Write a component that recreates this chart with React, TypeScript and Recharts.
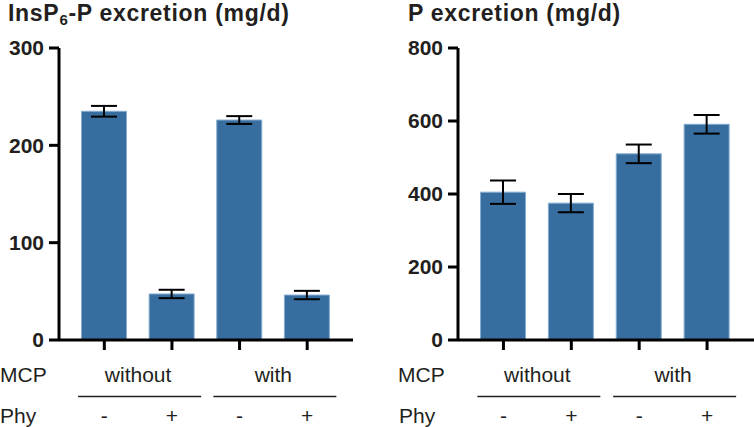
import { BarChart, Bar, XAxis, YAxis, ErrorBar } from "recharts"

// groups and treatments
const mcpGroups = ["without", "without", "with", "with"]
const phyLevels = ["-", "+", "-", "+"]

// InsP6-P excretion (mg/d)
const insp6Mean = [235, 47.3, 226, 46.2]
const insp6Err = [5.5, 4.3, 4, 4.3]
const insp6Ticks = [0, 100, 200, 300]

// P excretion (mg/d)
const pMean = [405, 375, 510, 591]
const pErr = [32, 25, 25.5, 25.5]
const pTicks = [0, 200, 400, 600, 800]

const FONT = "'Liberation Sans', Arial, Helvetica, sans-serif"
const INK = "#231f20"
const BAR = "#386e9f"

const buildRows = (mean: number[], err: number[]) =>
  mean.map((v, i) => ({
    name: `${mcpGroups[i]}${phyLevels[i]}`,
    value: v,
    err: err[i],
  }))

function GroupTick(props: any) {
  const { x, y, index, payload } = props
  const half = payload?.offset ?? 34
  const isFirstOfGroup = index % 2 === 0
  const mid = x + half
  return (
    <g>
      <text
        x={x}
        y={y + 73}
        textAnchor="middle"
        fontFamily={FONT}
        fontSize={21}
        fill={INK}
      >
        {phyLevels[index]}
      </text>
      {isFirstOfGroup && (
        <>
          <text
            x={mid}
            y={y + 32}
            textAnchor="middle"
            fontFamily={FONT}
            fontSize={21}
            fill={INK}
          >
            {mcpGroups[index]}
          </text>
          <line
            x1={mid - 60}
            x2={mid + 63}
            y1={y + 46.5}
            y2={y + 46.5}
            stroke={INK}
            strokeWidth={1.3}
          />
        </>
      )}
    </g>
  )
}

function Panel({
  rows,
  ticks,
  yWidth,
  marginRight,
  padRight,
}: {
  rows: { name: string; value: number; err: number }[]
  ticks: number[]
  yWidth: number
  marginRight: number
  padRight: number
}) {
  return (
    <BarChart
      width={377}
      height={427}
      data={rows}
      margin={{ top: 48, right: marginRight, left: 0, bottom: 0 }}
      style={{ overflow: "visible" }}
    >
      <XAxis
        dataKey="name"
        height={87}
        padding={{ left: 11.5, right: padRight }}
        axisLine={{ stroke: "#000", strokeWidth: 3 }}
        tickLine={{ stroke: "#000", strokeWidth: 3 }}
        tickSize={10}
        tickMargin={0}
        interval={0}
        tick={<GroupTick />}
      />
      <YAxis
        width={yWidth}
        domain={[ticks[0], ticks[ticks.length - 1]]}
        ticks={ticks}
        interval={0}
        axisLine={{ stroke: "#000", strokeWidth: 3 }}
        tickLine={{ stroke: "#000", strokeWidth: 3 }}
        tickSize={10}
        tickMargin={5}
        tick={{ fontFamily: FONT, fontSize: 21, fontWeight: 700, fill: INK }}
      />
      <Bar
        dataKey="value"
        fill={BAR}
        stroke="#86acd0"
        strokeWidth={1}
        barSize={45}
        isAnimationActive={false}
      >
        <ErrorBar dataKey="err" width={13} stroke="#000" strokeWidth={2} />
      </Bar>
    </BarChart>
  )
}

const titleStyle = {
  position: "absolute" as const,
  top: 0,
  fontFamily: FONT,
  fontWeight: 700,
  fontSize: 23,
  letterSpacing: 0.7,
  lineHeight: "normal",
  color: INK,
  whiteSpace: "nowrap" as const,
}

const rowLabel = {
  position: "absolute" as const,
  fontFamily: FONT,
  fontSize: 21,
  lineHeight: "21px",
  color: INK,
  whiteSpace: "nowrap" as const,
}

export default function App() {
  return (
    <div
      style={{
        position: "absolute",
        left: 0,
        top: 0,
        width: 754,
        height: 427,
        overflow: "hidden",
        background: "#fff",
      }}
    >
      <div style={{ position: "absolute", left: 0, top: 0 }}>
        <Panel rows={buildRows(insp6Mean, insp6Err)} ticks={insp6Ticks} yWidth={59} marginRight={24} padRight={12} />
      </div>
      <div style={{ position: "absolute", left: 377, top: 0 }}>
        <Panel rows={buildRows(pMean, pErr)} ticks={pTicks} yWidth={81} marginRight={0} padRight={13} />
      </div>

      {/* titles */}
      <div style={{ ...titleStyle, left: 8 }}>
        InsP
        <span style={{ fontSize: 15, position: "relative", top: 4 }}>6</span>
        -P excretion (mg/d)
      </div>
      <div style={{ ...titleStyle, left: 408 }}>P excretion (mg/d)</div>

      {/* row labels */}
      <div style={{ ...rowLabel, left: 0, top: 364 }}>MCP</div>
      <div style={{ ...rowLabel, left: 0, top: 405 }}>Phy</div>
      <div style={{ ...rowLabel, left: 398, top: 364 }}>MCP</div>
      <div style={{ ...rowLabel, left: 399, top: 405 }}>Phy</div>
    </div>
  )
}
